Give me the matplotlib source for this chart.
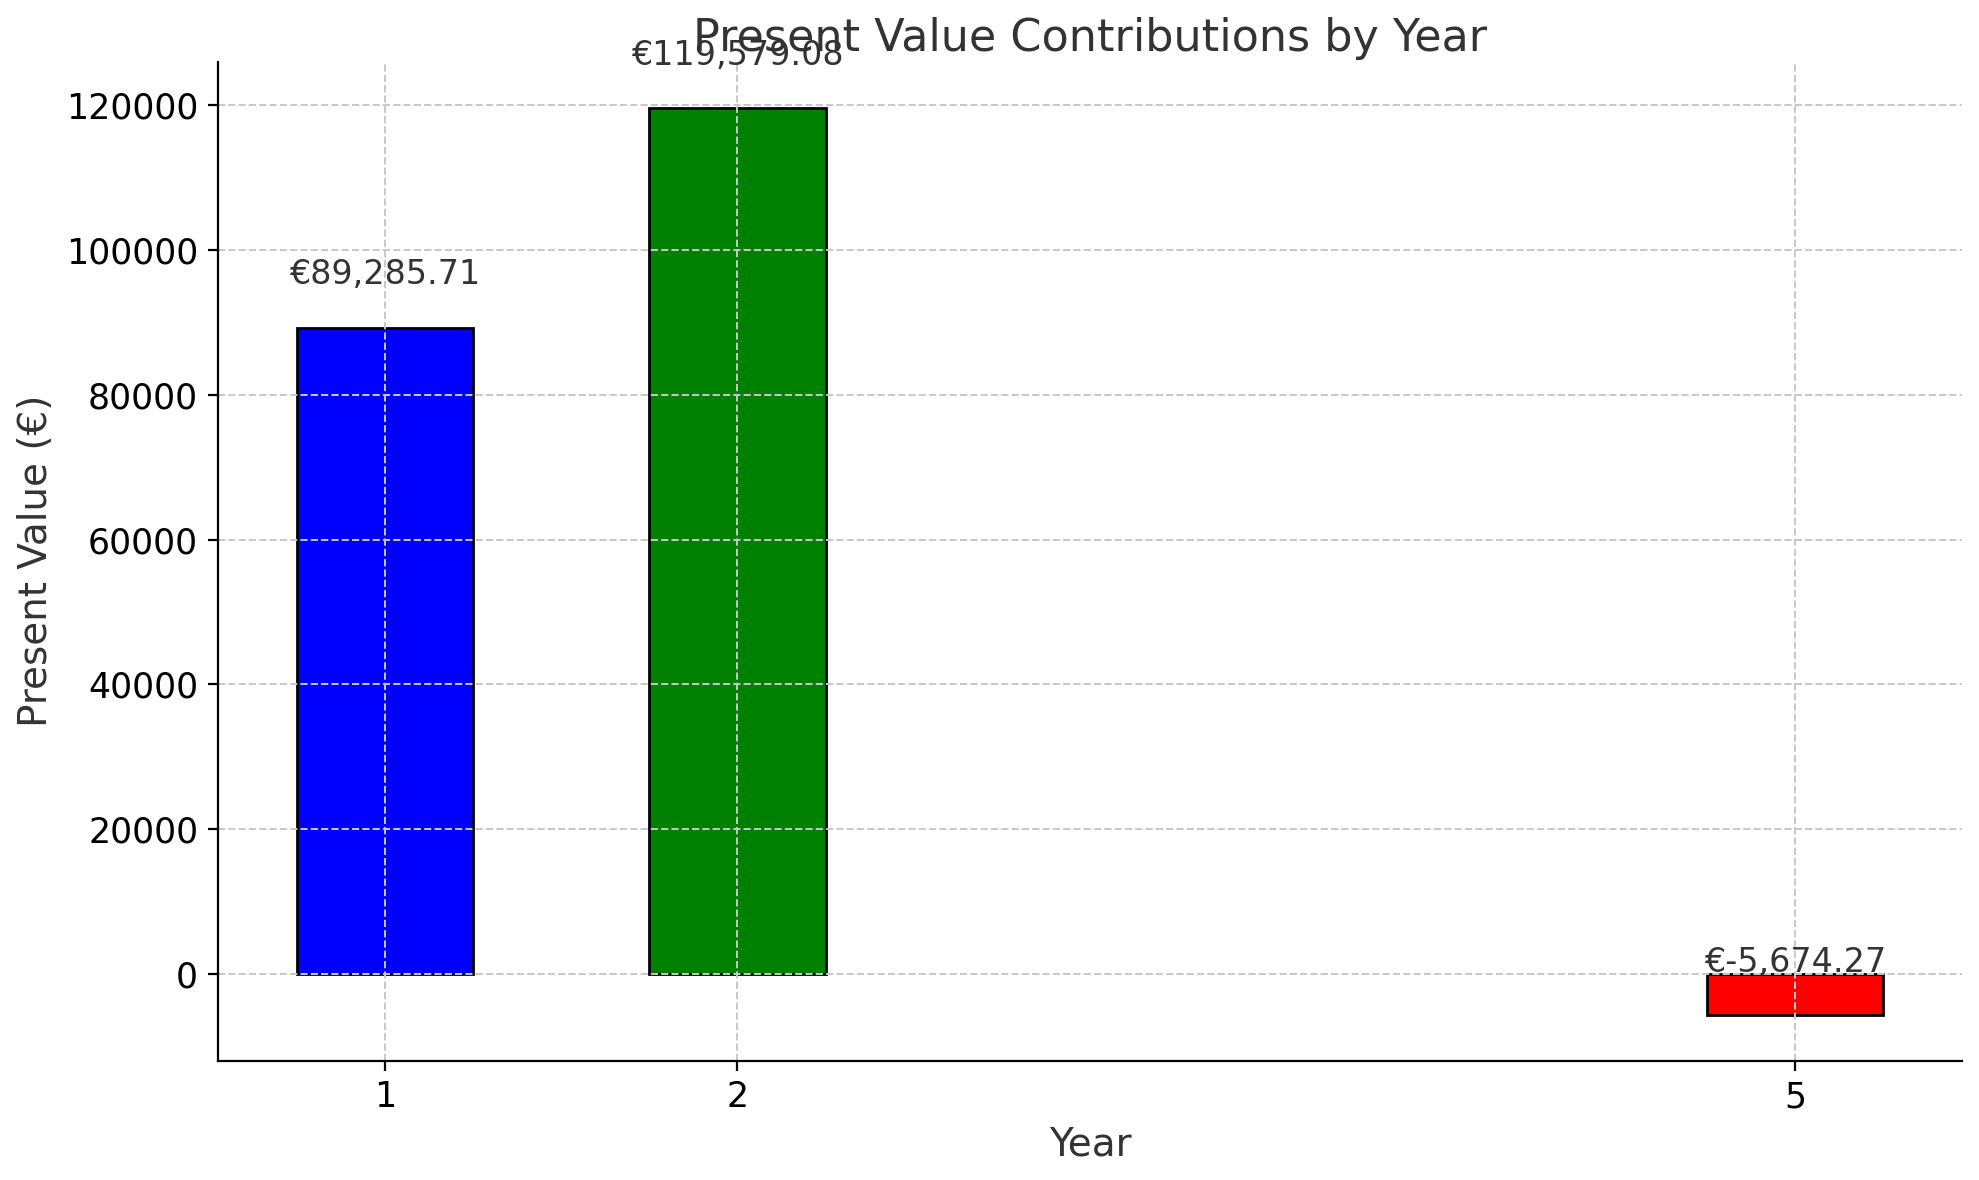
import matplotlib.pyplot as plt

years = [1, 2, 5]
values = [89285.71, 119579.08, -5674.27]
colors = ['blue', 'green', 'red']

fig, ax = plt.subplots(figsize=(9.895, 5.9), dpi=200)
ax.bar(years, values, width=0.5, color=colors, edgecolor='black')

for x, v in zip(years, values):
    ax.text(x, v + 5000, f"€{v:,.2f}", ha='center', va='bottom', fontsize=12, color='#333333')

ax.set_xticks(years)
ax.set_xticklabels([str(y) for y in years])
ax.set_ylim(-12000, 126000)
ax.set_title('Present Value Contributions by Year', fontsize=16, color='#333333', pad=4)
ax.set_xlabel('Year', fontsize=14, color='#333333')
ax.set_ylabel('Present Value (€)', fontsize=14, color='#333333')
ax.tick_params(labelsize=12.5)
ax.grid(True, linestyle='--', color='#c8c8c8', linewidth=0.7)
ax.spines['top'].set_visible(False)
ax.spines['right'].set_visible(False)

plt.tight_layout(pad=0.6)
plt.savefig('out.png', dpi=200)
